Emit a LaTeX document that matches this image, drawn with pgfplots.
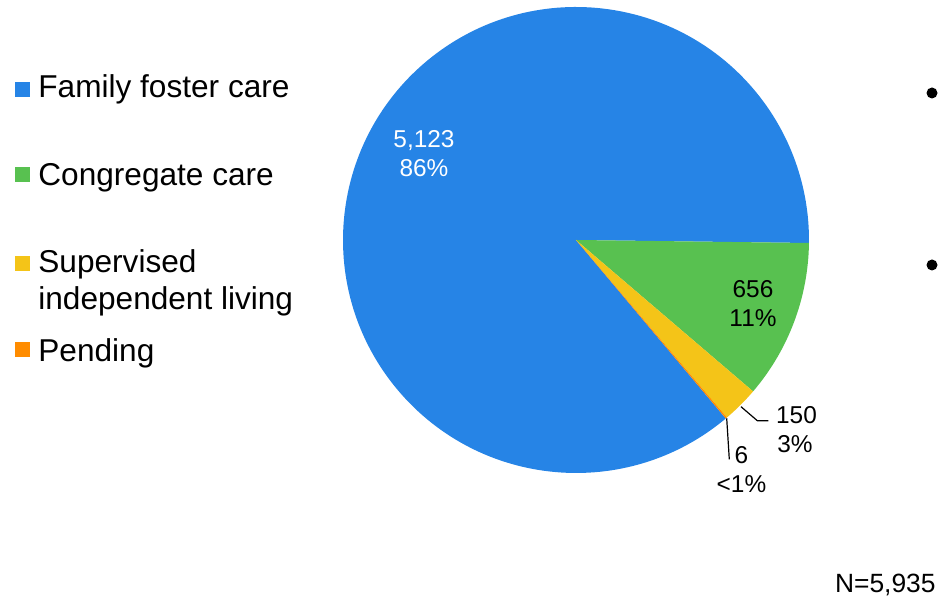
\documentclass[border=0pt]{standalone}
\usepackage{pgfplots}
\usepackage{pgfplotstable}
\pgfplotsset{compat=1.18}
\usepackage{fontspec}
\setmainfont{Liberation Sans}
\definecolor{cfam}{RGB}{38,132,230}
\definecolor{ccon}{RGB}{88,193,80}
\definecolor{csup}{RGB}{244,196,24}
\definecolor{cpen}{RGB}{255,140,0}

\pgfplotstableread{
name value
fam 5123
con 656
sup 150
pen 6
}\piedata

\begin{document}
\begin{tikzpicture}
\pgfplotstablegetelem{0}{value}\of\piedata \let\vfam\pgfplotsretval
\pgfplotstablegetelem{1}{value}\of\piedata \let\vcon\pgfplotsretval
\pgfplotstablegetelem{2}{value}\of\piedata \let\vsup\pgfplotsretval
\pgfplotstablegetelem{3}{value}\of\piedata \let\vpen\pgfplotsretval
\pgfmathsetmacro\tot{(\vfam+\vcon+\vsup+\vpen)/1000}
\pgfmathsetmacro\aA{-0.74}
\pgfmathsetmacro\aB{\aA-0.36*\vcon/\tot}
\pgfmathsetmacro\aC{\aB-0.36*\vsup/\tot}
\pgfmathsetmacro\aD{\aC-0.36*\vpen/\tot}
\pgfmathsetmacro\aE{\aA-360}
\begin{axis}[hide axis, scale only axis, width=469pt, height=298.5pt,
  xmin=0, xmax=938, ymin=0, ymax=597, clip=false]
\path (axis cs:0,0) rectangle (axis cs:938,597);
% pie wedges
\fill[cfam] (axis cs:576,357) -- ++(\aD:116.5pt) arc[start angle=\aD, end angle=\aE, radius=116.5pt] -- cycle;
\fill[ccon] (axis cs:576,357) -- ++(\aA:116.5pt) arc[start angle=\aA, end angle=\aB, radius=116.5pt] -- cycle;
\fill[csup] (axis cs:576,357) -- ++(\aB:116.5pt) arc[start angle=\aB, end angle=\aC, radius=116.5pt] -- cycle;
\fill[cpen] (axis cs:576,357) -- ++(\aC:116.5pt) arc[start angle=\aC, end angle=\aD, radius=116.5pt] -- cycle;
% legend
\fill[cfam] (axis cs:14.5,499.5) rectangle (axis cs:29.5,514.5);
\fill[ccon] (axis cs:14.5,414.5) rectangle (axis cs:29.5,429.5);
\fill[csup] (axis cs:14.5,325.5) rectangle (axis cs:29.5,340.5);
\fill[cpen] (axis cs:14.5,239.5) rectangle (axis cs:29.5,254.5);
\begin{scope}[every node/.style={inner sep=0pt, anchor=base west, font=\fontsize{15.8}{18}\selectfont}]
\node at (axis cs:38,499) {Family foster care};
\node at (axis cs:38,411) {Congregate care};
\node at (axis cs:38,324) {Supervised};
\node at (axis cs:38,287) {independent living};
\node at (axis cs:38,235.5) {Pending};
\end{scope}
% data labels
\begin{scope}[every node/.style={inner sep=0pt, anchor=base, font=\fontsize{12.2}{14}\selectfont}]
\node[white] at (axis cs:424,449.7) {5,123};
\node[white] at (axis cs:424,420.3) {86\%};
\node at (axis cs:753,299.7) {656};
\node at (axis cs:753,270.3) {11\%};
\node at (axis cs:796.5,173.7) {150};
\node at (axis cs:795,144.3) {3\%};
\node at (axis cs:741.5,133.7) {6};
\node at (axis cs:741.5,104.5) {<1\%};
\end{scope}
\draw[black, line width=0.6pt] (axis cs:741,190.3) -- (axis cs:757.3,176.3) -- (axis cs:768.3,176.3);
\draw[black, line width=0.6pt] (axis cs:726.7,178.7) -- (axis cs:729.3,137.7);
\node[inner sep=0pt, anchor=base east, font=\fontsize{13.2}{15}\selectfont] at (axis cs:936,4.3) {N=5,935};
\fill[black] (axis cs:932,504) circle[radius=2.75pt];
\fill[black] (axis cs:932,332) circle[radius=2.75pt];
\end{axis}
\pgfresetboundingbox
\useasboundingbox (current axis.south west) rectangle (current axis.north east);
\end{tikzpicture}
\end{document}
